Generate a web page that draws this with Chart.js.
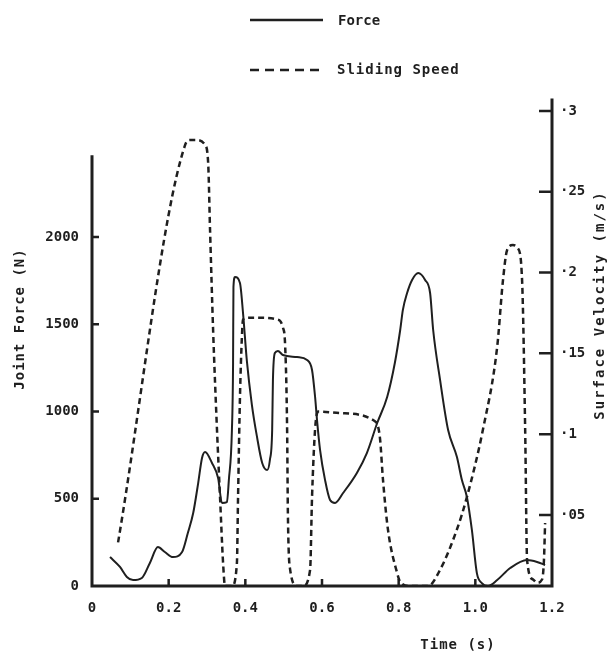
<!DOCTYPE html>
<html>
<head>
  <title>Joint Force and Sliding Speed</title>
  <script src="https://cdn.jsdelivr.net/npm/chart.js"></script>
  <style>
    body { margin: 0; background: #fff; }
    #chart { display: block; }
  </style>
</head>
<body>
  <canvas id="chart" width="607" height="653"></canvas>
  <script>
    // Force curve (solid) - time in s, force in N
    const forceTime = [0.047, 0.073, 0.091, 0.107, 0.130, 0.151, 0.172, 0.190, 0.211, 0.235,
      0.250, 0.264, 0.277, 0.287, 0.295, 0.313, 0.329, 0.339, 0.352, 0.357,
      0.365, 0.368, 0.369, 0.373, 0.386, 0.394, 0.404, 0.417, 0.430, 0.444,
      0.457, 0.464, 0.470, 0.472, 0.477, 0.485, 0.498, 0.535, 0.561, 0.574,
      0.582, 0.587, 0.595, 0.608, 0.621, 0.634, 0.655, 0.691, 0.717, 0.744,
      0.770, 0.790, 0.804, 0.811, 0.822, 0.835, 0.851, 0.869, 0.882, 0.890,
      0.908, 0.929, 0.952, 0.965, 0.978, 0.991, 1.004, 1.017, 1.033, 1.057,
      1.091, 1.135, 1.161, 1.182];
    const forceValues = [166, 109, 52, 34, 46, 132, 223, 195, 166, 195,
      304, 418, 590, 734, 768, 705, 619, 476, 481, 607,
      894, 1278, 1713, 1771, 1736, 1564, 1290, 1040, 860, 705,
      665, 722, 894, 1181, 1335, 1347, 1324, 1312, 1295, 1238,
      1083, 951, 779, 607, 493, 476, 533, 648, 762, 934,
      1083, 1278, 1467, 1582, 1679, 1754, 1794, 1754, 1679, 1467,
      1181, 894, 739, 607, 510, 321, 74, 17, 0, 34,
      103, 149, 138, 120];

    // Sliding speed (dashed) - time in s, surface velocity in m/s
    const speedTime = [0.068, 0.243, 0.256, 0.274, 0.295, 0.303, 0.308, 0.316, 0.326, 0.334,
      0.342, 0.347, 0.365, 0.378, 0.381, 0.386, 0.391, 0.394, 0.412, 0.438,
      0.483, 0.498, 0.504, 0.509, 0.511, 0.517, 0.535, 0.550, 0.569, 0.574,
      0.582, 0.590, 0.647, 0.738, 0.751, 0.759, 0.772, 0.796, 0.804, 0.830,
      0.877, 0.908, 0.952, 0.978, 1.020, 1.057, 1.072, 1.083, 1.098, 1.111,
      1.122, 1.130, 1.135, 1.151, 1.161, 1.174, 1.179, 1.182];
    const speedValues = [0.033, 0.279, 0.282, 0.282, 0.279, 0.268, 0.226, 0.164, 0.103, 0.061,
      0.020, 0.006, 0.006, 0.020, 0.061, 0.123, 0.160, 0.171, 0.172, 0.172,
      0.171, 0.166, 0.154, 0.103, 0.051, 0.016, 0.006, 0.006, 0.016, 0.061,
      0.103, 0.114, 0.113, 0.108, 0.098, 0.072, 0.041, 0.014, 0.0085, 0.006,
      0.006, 0.016, 0.041, 0.061, 0.103, 0.154, 0.195, 0.214, 0.217, 0.215,
      0.195, 0.103, 0.022, 0.010, 0.008, 0.010, 0.022, 0.045];

    const timeTicks = [0, 0.2, 0.4, 0.6, 0.8, 1.0, 1.2];
    const timeTickLabels = ['0', '0.2', '0.4', '0.6', '0.8', '1.0', '1.2'];
    const forceTicks = [0, 500, 1000, 1500, 2000];
    const forceTickLabels = ['0', '500', '1000', '1500', '2000'];
    const speedTicks = [0.05, 0.1, 0.15, 0.2, 0.25, 0.3];
    const speedTickLabels = ['·05', '·1', '·15', '·2', '·25', '·3'];

    const ink = '#1f1f1f';
    const fontFamily = "'DejaVu Sans Mono', monospace";
    const tickFont = { family: fontFamily, size: 14, weight: 'bold' };

    // axis frame, inward tick marks, titles and legend
    const paperPlugin = {
      id: 'paper',
      afterDraw(chart) {
        const ctx = chart.ctx;
        const x = chart.scales.x, yF = chart.scales.yForce, yS = chart.scales.ySpeed;
        const x0 = x.getPixelForValue(0), x1 = x.getPixelForValue(1.2);
        const yb = yF.getPixelForValue(0);
        ctx.save();
        ctx.strokeStyle = ink;
        ctx.lineCap = 'square';
        ctx.lineWidth = 3;
        ctx.beginPath();
        ctx.moveTo(x0, yF.getPixelForValue(2460));
        ctx.lineTo(x0, yb);
        ctx.lineTo(x1, yb);
        ctx.lineTo(x1, chart.chartArea.top);
        ctx.stroke();

        ctx.lineWidth = 2.5;
        ctx.lineCap = 'butt';
        ctx.beginPath();
        forceTicks.slice(1).forEach(v => {
          const p = yF.getPixelForValue(v);
          ctx.moveTo(x0, p); ctx.lineTo(x0 + 7, p);
        });
        timeTicks.slice(1, -1).forEach(v => {
          const p = x.getPixelForValue(v);
          ctx.moveTo(p, yb); ctx.lineTo(p, yb - 7);
        });
        speedTicks.forEach(v => {
          const p = yS.getPixelForValue(v);
          ctx.moveTo(x1, p); ctx.lineTo(x1 - 13, p);
        });
        ctx.stroke();

        ctx.fillStyle = ink;
        ctx.font = 'bold 14px ' + fontFamily;
        ctx.textBaseline = 'middle';
        ctx.letterSpacing = '1px';
        ctx.textAlign = 'center';

        ctx.save();
        ctx.translate(20, 319);
        ctx.rotate(-Math.PI / 2);
        ctx.fillText('Joint Force (N)', 0, 0);
        ctx.restore();

        ctx.save();
        ctx.translate(600, 305);
        ctx.rotate(-Math.PI / 2);
        ctx.letterSpacing = '2px';
        ctx.fillText('Surface Velocity (m/s)', 0, 0);
        ctx.restore();

        ctx.fillText('Time (s)', 458, 645);

        // legend
        ctx.textAlign = 'left';
        ctx.letterSpacing = '0px';
        ctx.fillText('Force', 338, 21);
        ctx.letterSpacing = '1px';
        ctx.fillText('Sliding Speed', 337, 70);
        ctx.lineWidth = 2.5;
        ctx.beginPath();
        ctx.moveTo(250, 20); ctx.lineTo(323, 20);
        ctx.stroke();
        ctx.setLineDash([9, 6]);
        ctx.beginPath();
        ctx.moveTo(250, 70); ctx.lineTo(322, 70);
        ctx.stroke();
        ctx.restore();
      }
    };

    new Chart(document.getElementById('chart'), {
      type: 'line',
      data: {
        datasets: [
          {
            label: 'Force',
            data: forceTime.map((t, i) => ({ x: t, y: forceValues[i] })),
            yAxisID: 'yForce',
            borderColor: ink,
            borderWidth: 2,
            pointRadius: 0,
            cubicInterpolationMode: 'monotone',
            fill: false
          },
          {
            label: 'Sliding Speed',
            data: speedTime.map((t, i) => ({ x: t, y: speedValues[i] })),
            yAxisID: 'ySpeed',
            borderColor: ink,
            borderWidth: 2.5,
            borderDash: [6, 4],
            pointRadius: 0,
            cubicInterpolationMode: 'monotone',
            fill: false
          }
        ]
      },
      options: {
        responsive: false,
        animation: false,
        devicePixelRatio: 1,
        layout: { padding: { top: 100, left: 0, right: 0, bottom: 0 } },
        plugins: { legend: { display: false }, tooltip: { enabled: false } },
        scales: {
          x: {
            type: 'linear',
            min: 0,
            max: 1.2,
            grid: { display: false, drawTicks: false },
            border: { display: false },
            afterBuildTicks: s => { s.ticks = timeTicks.map(v => ({ value: v })); },
            afterFit: s => { s.height = 67; },
            ticks: {
              autoSkip: false,
              maxRotation: 0,
              padding: 14,
              color: ink,
              font: tickFont,
              callback: v => timeTickLabels[timeTicks.indexOf(v)]
            }
          },
          yForce: {
            type: 'linear',
            position: 'left',
            min: 0,
            max: 2785,
            grid: { display: false, drawTicks: false },
            border: { display: false },
            afterBuildTicks: s => { s.ticks = forceTicks.map(v => ({ value: v })); },
            afterFit: s => { s.width = 92; },
            ticks: {
              padding: 13,
              color: ink,
              font: tickFont,
              callback: v => forceTickLabels[forceTicks.indexOf(v)]
            }
          },
          ySpeed: {
            type: 'linear',
            position: 'right',
            min: 0.006,
            max: 0.3068,
            grid: { display: false, drawTicks: false },
            border: { display: false },
            afterBuildTicks: s => { s.ticks = speedTicks.map(v => ({ value: v })); },
            afterFit: s => { s.width = 55; },
            ticks: {
              padding: 8,
              color: ink,
              font: tickFont,
              callback: v => speedTickLabels[speedTicks.indexOf(v)]
            }
          }
        }
      },
      plugins: [paperPlugin]
    });
  </script>
</body>
</html>
